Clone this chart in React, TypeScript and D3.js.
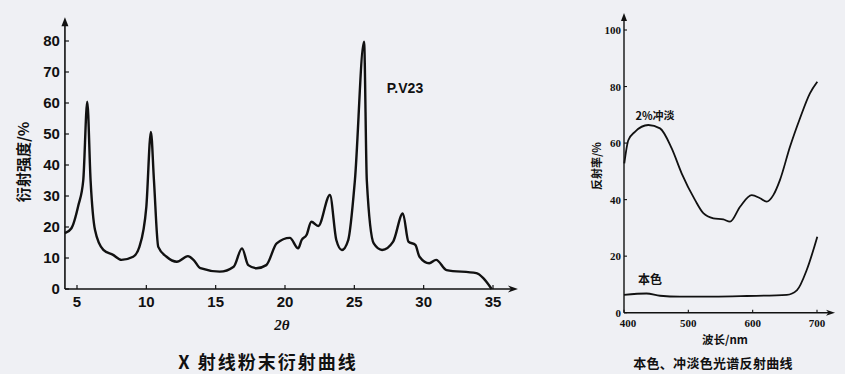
import React from "react";
import * as d3 from "d3";

const xrdTheta = [4.13, 4.6, 5.1, 5.45, 5.74, 5.98, 6.3, 6.9, 7.6, 8.2, 9.05, 9.5, 10.0, 10.33, 10.55, 10.86, 11.46, 12.2, 13.0, 13.4, 13.9, 15.3, 16.3, 16.9, 17.35, 17.95, 18.65, 19.4, 20.35, 20.95, 21.2, 21.55, 21.9, 22.4, 23.24, 23.7, 24.1, 24.56, 25.04, 25.7, 25.9, 26.4, 27.0, 27.8, 28.5, 28.9, 29.4, 29.7, 30.4, 30.9, 31.65, 33.8, 34.3, 34.9];
const xrdIntensity = [18, 19.6, 27, 35, 60.4, 35, 19, 12.6, 11, 9.4, 10.4, 13.6, 26.5, 50.7, 35, 13.6, 10.4, 8.8, 10.6, 9.4, 6.7, 5.6, 7.2, 13.1, 7.7, 6.7, 7.7, 14.7, 16.5, 13.1, 15.8, 17.4, 21.7, 20.3, 30.3, 15.8, 12.6, 15.8, 35, 79.8, 35, 14.7, 12.6, 15.3, 24.4, 15.3, 14.2, 10.4, 8.3, 9.4, 6.1, 5.1, 3.5, 0];
const xrdXTicks = [5, 10, 15, 20, 25, 30, 35];
const xrdYTicks = [0, 10, 20, 30, 40, 50, 60, 70, 80];

const tintWave = [400.5, 406.7, 417, 437.8, 456, 474, 489.6, 510.3, 523.3, 538.9, 554.4, 564.8, 580.4, 598.5, 611.5, 621.8, 632.1, 642.5, 658, 673.6, 689, 700.5];
const tintRefl = [52.8, 61, 64, 66.4, 65.2, 58.2, 49.3, 39.9, 35.2, 33.4, 33, 32.2, 37.5, 41.6, 40.5, 39.3, 41.6, 47, 58.7, 68.8, 77.6, 81.7];
const massWave = [400, 435, 456, 487, 539, 591, 653, 669, 684, 700.5];
const massRefl = [6.3, 6.8, 6.0, 5.7, 5.7, 5.9, 6.3, 8.0, 15.1, 26.9];
const specXTicks = [400, 500, 600, 700];
const specYTicks = [0, 20, 40, 60, 80, 100];

const BG = "#eff0f4";
const INK = "#111";
const CJK = "'Noto Sans CJK SC', sans-serif";

export default function App() {
  const x1 = d3.scaleLinear().domain([5, 35]).range([77, 493]);
  const y1 = d3.scaleLinear().domain([0, 80]).range([289, 41]);
  const line1 = d3
    .line<number>()
    .x((_, i) => x1(xrdTheta[i]))
    .y((d) => y1(d))
    .curve(d3.curveMonotoneX);
  const ax1 = x1(xrdTheta[0]);
  const xEnd1 = x1(36.8);
  const yTop1 = y1(87.7);

  const x2 = d3.scaleLinear().domain([400, 700]).range([624, 817]);
  const y2 = d3.scaleLinear().domain([0, 100]).range([312.7, 30]);
  const line2 = d3
    .line<[number, number]>()
    .x((d) => x2(d[0]))
    .y((d) => y2(d[1]))
    .curve(d3.curveMonotoneX);
  const tintPts = tintWave.map((w, i) => [w, tintRefl[i]] as [number, number]);
  const massPts = massWave.map((w, i) => [w, massRefl[i]] as [number, number]);
  const xEnd2 = x2(728);
  const yTop2 = y2(106);

  return (
    <svg
      width={845}
      height={374}
      style={{ position: "absolute", left: 0, top: 0, background: BG }}
    >
      <rect width={845} height={374} fill={BG} />
      <g>
        <line x1={ax1} x2={ax1} y1={y1(0)} y2={yTop1 + 4} stroke={INK} strokeWidth={1.6} />
        <path d={`M${ax1},${yTop1} l-3.5,9 l7,0 z`} fill={INK} />
        <line x1={ax1} x2={xEnd1 - 4} y1={y1(0)} y2={y1(0)} stroke={INK} strokeWidth={1.6} />
        <path d={`M${xEnd1},${y1(0)} l-10,-3.5 l3,3.5 l-3,3.5 z`} fill={INK} />
        {xrdYTicks.map((t) => (
          <g key={"y1" + t}>
            <line x1={ax1} x2={ax1 + 4} y1={y1(t)} y2={y1(t)} stroke={INK} strokeWidth={1.2} />
            <text
              x={ax1 - 5}
              y={y1(t)}
              dy="0.36em"
              textAnchor="end"
              fontFamily="'Liberation Sans', Arial, sans-serif"
              fontWeight="bold"
              fontSize={15}
              fill={INK}
            >
              {t}
            </text>
          </g>
        ))}
        {xrdXTicks.map((t) => (
          <g key={"x1" + t}>
            <line x1={x1(t)} x2={x1(t)} y1={y1(0)} y2={y1(0) - 4} stroke={INK} strokeWidth={1.2} />
            <text
              x={x1(t)}
              y={y1(0) + 18}
              textAnchor="middle"
              fontFamily="'Liberation Sans', Arial, sans-serif"
              fontWeight="bold"
              fontSize={15}
              fill={INK}
            >
              {t}
            </text>
          </g>
        ))}
        <path d={line1(xrdIntensity) || ""} fill="none" stroke={INK} strokeWidth={2.4} strokeLinejoin="round" />
        <text x={405} y={93} textAnchor="middle" fontFamily="'Liberation Sans', Arial, sans-serif" fontWeight="bold" fontSize={14} fill={INK}>
          P.V23
        </text>
        <text x={282} y={330} textAnchor="middle" fontFamily="'Liberation Serif', serif" fontStyle="italic" fontWeight="bold" fontSize={15} fill={INK}>
          2θ
        </text>
        <text
          transform="translate(29,162) rotate(-90)"
          textAnchor="middle"
          fontFamily={CJK}
          fontWeight="bold"
          fontSize={15}
          fill={INK}
        >
          衍射强度/%
        </text>
        <text x={268} y={369} textAnchor="middle" fontFamily={CJK} fontWeight="bold" fontSize={18} letterSpacing={2} fill={INK}>
          X 射线粉末衍射曲线
        </text>
      </g>

      <g>
        <line x1={x2(400)} x2={x2(400)} y1={y2(0)} y2={yTop2 + 4} stroke={INK} strokeWidth={1.4} />
        <path d={`M${x2(400)},${yTop2} l-3,8 l6,0 z`} fill={INK} />
        <line x1={x2(400)} x2={xEnd2 - 4} y1={y2(0)} y2={y2(0)} stroke={INK} strokeWidth={1.4} />
        <path d={`M${xEnd2},${y2(0)} l-9,-3 l2.5,3 l-2.5,3 z`} fill={INK} />
        {specYTicks.map((t) => (
          <g key={"y2" + t}>
            <line x1={x2(400)} x2={x2(400) + 3} y1={y2(t)} y2={y2(t)} stroke={INK} strokeWidth={1.1} />
            <text
              x={x2(400) - 3}
              y={y2(t)}
              dy="0.36em"
              textAnchor="end"
              fontFamily="'Liberation Serif', serif"
              fontWeight="bold"
              fontSize={11}
              fill={INK}
            >
              {t}
            </text>
          </g>
        ))}
        {specXTicks.map((t) => (
          <g key={"x2" + t}>
            <line x1={x2(t)} x2={x2(t)} y1={y2(0)} y2={y2(0) - 3} stroke={INK} strokeWidth={1.1} />
            <text
              x={x2(t) + (t === 400 ? 4 : 0)}
              y={y2(0) + 14}
              textAnchor="middle"
              fontFamily="'Liberation Serif', serif"
              fontWeight="bold"
              fontSize={11}
              fill={INK}
            >
              {t}
            </text>
          </g>
        ))}
        <path d={line2(tintPts) || ""} fill="none" stroke={INK} strokeWidth={1.8} strokeLinejoin="round" />
        <path d={line2(massPts) || ""} fill="none" stroke={INK} strokeWidth={1.8} strokeLinejoin="round" />
        <text x={655} y={120} textAnchor="middle" fontFamily={CJK} fontWeight="bold" fontSize={11} fill={INK}>
          2%冲淡
        </text>
        <text x={650} y={284} textAnchor="middle" fontFamily={CJK} fontWeight="bold" fontSize={12} fill={INK}>
          本色
        </text>
        <text
          transform="translate(601,166) rotate(-90)"
          textAnchor="middle"
          fontFamily={CJK}
          fontWeight="bold"
          fontSize={11}
          fill={INK}
        >
          反射率/%
        </text>
        <text x={725} y={344} textAnchor="middle" fontFamily={CJK} fontWeight="bold" fontSize={11.5} fill={INK}>
          波长/nm
        </text>
        <text x={713} y={368} textAnchor="middle" fontFamily={CJK} fontWeight="bold" fontSize={13} letterSpacing={0.3} fill={INK}>
          本色、冲淡色光谱反射曲线
        </text>
      </g>
    </svg>
  );
}
